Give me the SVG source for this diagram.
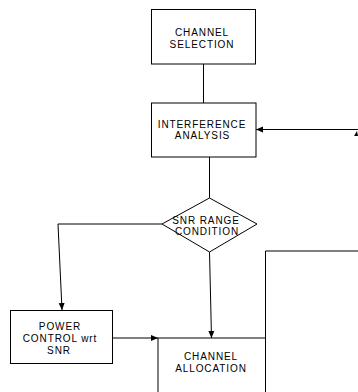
<svg xmlns="http://www.w3.org/2000/svg" width="358" height="392" viewBox="0 0 358 392">
<style>
.box{fill:#fff;stroke:#000;stroke-width:1}
.ln{fill:none;stroke:#000;stroke-width:1}
text{font-family:"Liberation Sans",Arial,sans-serif;font-size:10px;letter-spacing:0.9px;text-anchor:middle;fill:#000}
</style>
<defs>
<marker id="ah" markerWidth="8" markerHeight="8" refX="7" refY="4" orient="auto" markerUnits="userSpaceOnUse">
<path d="M0,1 L7,4 L0,7 Z" fill="#000"/>
</marker>
</defs>
<rect width="358" height="392" fill="#fff"/>
<g id="connectors">
<line class="ln" x1="203.5" y1="64" x2="203.5" y2="103"/>
<line class="ln" x1="358" y1="129.5" x2="256" y2="129.5" marker-end="url(#ah)"/>
<path d="M354,136 L357,131 L358,136 Z" fill="#000"/>
<line class="ln" x1="209.5" y1="157" x2="209.5" y2="198"/>
<polyline class="ln" points="162,224 58,224 62,310" marker-end="url(#ah)"/>
<line class="ln" x1="209.5" y1="252" x2="211.5" y2="338" marker-end="url(#ah)"/>
<line class="ln" x1="112" y1="338" x2="158" y2="338" marker-end="url(#ah)"/>
<polyline class="ln" points="358,251 265.5,251 265.5,392"/>
</g>
<g id="channel-selection">
<rect class="box" x="151.5" y="9.5" width="104" height="54.5"/>
<text x="202" y="36">CHANNEL</text>
<text x="202" y="47.5">SELECTION</text>
</g>
<g id="interference-analysis">
<rect class="box" x="151.5" y="103" width="104.5" height="54"/>
<text x="202" y="127.5">INTERFERENCE</text>
<text x="202.5" y="138.5">ANALYSIS</text>
</g>
<g id="snr-range-condition">
<polygon class="box" points="209.5,198 257,224 209.5,252 162,224"/>
<text x="206" y="223.5">SNR RANGE</text>
<text x="207" y="234.5">CONDITION</text>
</g>
<g id="power-control">
<rect class="box" x="10.5" y="310.5" width="102" height="53"/>
<text x="60" y="329.5">POWER</text>
<text x="60" y="341.5">CONTROL wrt</text>
<text x="59" y="353.5">SNR</text>
</g>
<g id="channel-allocation">
<rect class="box" x="158" y="338" width="107.5" height="60"/>
<text x="211" y="360">CHANNEL</text>
<text x="211" y="371.5">ALLOCATION</text>
</g>
</svg>
